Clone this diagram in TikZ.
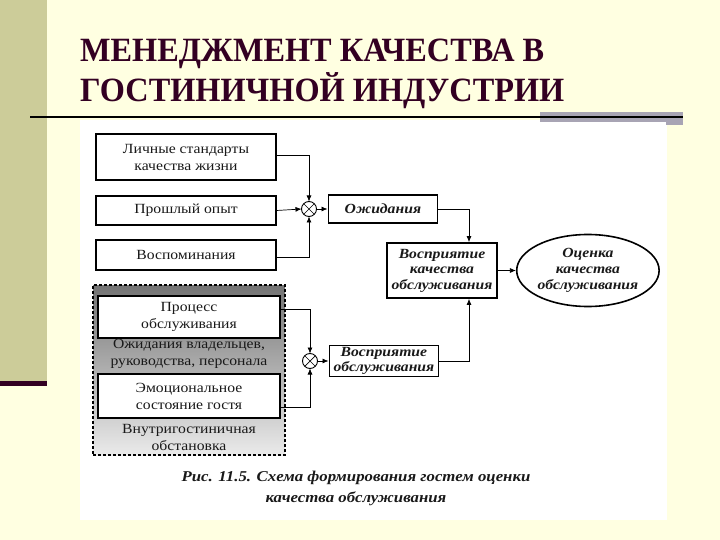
\documentclass[tikz,border=0pt]{standalone}
\usepackage{fontspec}
\setmainfont{Liberation Serif}
\newfontfamily\scanfont[FakeStretch=1.12]{Liberation Serif}
\newfontfamily\titlefont[FakeStretch=0.95]{Liberation Serif}
\usetikzlibrary{shapes.geometric, arrows.meta, positioning, calc}
\definecolor{bgcream}{RGB}{255,255,225}
\definecolor{olivebar}{RGB}{204,204,153}
\definecolor{darkplum}{RGB}{51,0,34}
\definecolor{barsgray}{RGB}{168,164,180}
\tikzset{
  box/.style={draw, fill=white, line width=1.1pt, minimum width=180pt, inner sep=1pt, align=center,
    text=black!90, font=\scanfont\fontsize{14}{17}\selectfont},
  ibox/.style={draw, fill=white, line width=1.8pt, inner sep=1pt, align=center,
    text=black!90, font=\scanfont\bfseries\itshape\fontsize{14}{15.5}\selectfont},
  sumnode/.style={draw, circle, fill=white, line width=0.9pt, minimum size=15pt, inner sep=0pt, outer sep=0pt},
  groupbox/.style={draw, line width=1.6pt, dash pattern=on 3pt off 2pt,
    top color=black!55, bottom color=black!8, minimum width=192pt, minimum height=170pt},
  graytext/.style={align=center, text=black!90, font=\scanfont\fontsize{14}{17}\selectfont},
  arr/.style={line width=0.7pt, -{Latex[length=6pt,width=5pt]}},
}
\begin{document}
\begin{tikzpicture}[x=1pt, y=-1pt]
  % slide background
  \fill[bgcream] (0,0) rectangle (720,540);
  \fill[olivebar] (0,0) rectangle (47,381);
  \fill[darkplum] (0,381) rectangle (47,386);
  \fill[white] (80,120) rectangle (667,520);
  \node[anchor=base west, inner sep=0pt, text=darkplum,
    font=\titlefont\bfseries\fontsize{34}{40}\selectfont] (title1) at (80,62) {МЕНЕДЖМЕНТ КАЧЕСТВА В};
  \node[anchor=base west, inner sep=0pt, text=darkplum,
    font=\titlefont\bfseries\fontsize{34}{40}\selectfont] (title2) at (80,102) {ГОСТИНИЧНОЙ ИНДУСТРИИ};
  \fill[barsgray] (540,112) rectangle (683,122);
  \fill[barsgray] (666,122) rectangle (683,125);
  \draw[line width=2pt] (30,117) -- (683,117);

  % upper inputs
  \node[box, minimum height=46pt] (lich) at (186,157) {Личные стандарты\\качества жизни};
  \node[box, minimum height=29pt] (opyt) at (186,210.5) {Прошлый опыт};
  \node[box, minimum height=30pt] (vospom) at (186,255) {Воспоминания};
  \node[sumnode] (sumA) at (309,209) {};
  \node[ibox, minimum width=109pt, minimum height=28pt, right=11pt of sumA] (ozhid) {Ожидания};
  \node[ibox, minimum width=110pt, minimum height=55pt] (vkach) at (442,270.5) {Восприятие\\качества\\обслуживания};
  \node[ellipse, draw, line width=1.6pt, minimum width=108pt, minimum height=72pt, inner sep=0pt,
    align=center, text=black!90, font=\scanfont\bfseries\itshape\fontsize{14}{16}\selectfont,
    right=18pt of vkach] (ocenka) {Оценка\\качества\\обслуживания};

  % lower group
  \node[groupbox] (hotel) at (189,370) {};
  \node[box, minimum width=182pt, minimum height=42pt] (proc) at (189,317) {Процесс\\обслуживания};
  \node[graytext] (expect) at (189,353.5) {Ожидания владельцев,\\руководства, персонала};
  \node[box, minimum width=182pt, minimum height=44pt] (emoc) at (189,396) {Эмоциональное\\состояние гостя};
  \node[graytext] (ambience) at (189,437) {Внутригостиничная\\обстановка};
  \node[sumnode] (sumB) at (310,361) {};
  \node[ibox, minimum width=109pt, minimum height=31pt, right=11pt of sumB] (vobsl) {Восприятие\\обслуживания};

  \foreach \s in {sumA,sumB}
    \draw[line width=0.7pt] (\s.north east) -- (\s.south west) (\s.north west) -- (\s.south east);

  \draw[arr] ([yshift=2pt]lich.east) -| (sumA.north);
  \draw[arr] (opyt.east) -- (sumA.west);
  \draw[arr] ([yshift=-2pt]vospom.east) -| (sumA.south);
  \draw[arr] (sumA) -- (ozhid);
  \draw[arr] (ozhid.east) -| ([xshift=27pt]vkach.north);
  \draw[arr] (vkach) -- (ocenka);
  \draw[arr] ([yshift=8pt]proc.east) -| (sumB.north);
  \draw[arr] ([yshift=-11pt]emoc.east) -| (sumB.south);
  \draw[arr] (sumB) -- (vobsl);
  \draw[arr] (vobsl.east) -| ([xshift=27pt]vkach.south);

  \node[align=center, text=black!90, font=\scanfont\bfseries\itshape\fontsize{15}{21}\selectfont]
    (caption) at (356,488) {Рис. 11.5. Схема формирования гостем оценки\\качества обслуживания};
\end{tikzpicture}
\end{document}
